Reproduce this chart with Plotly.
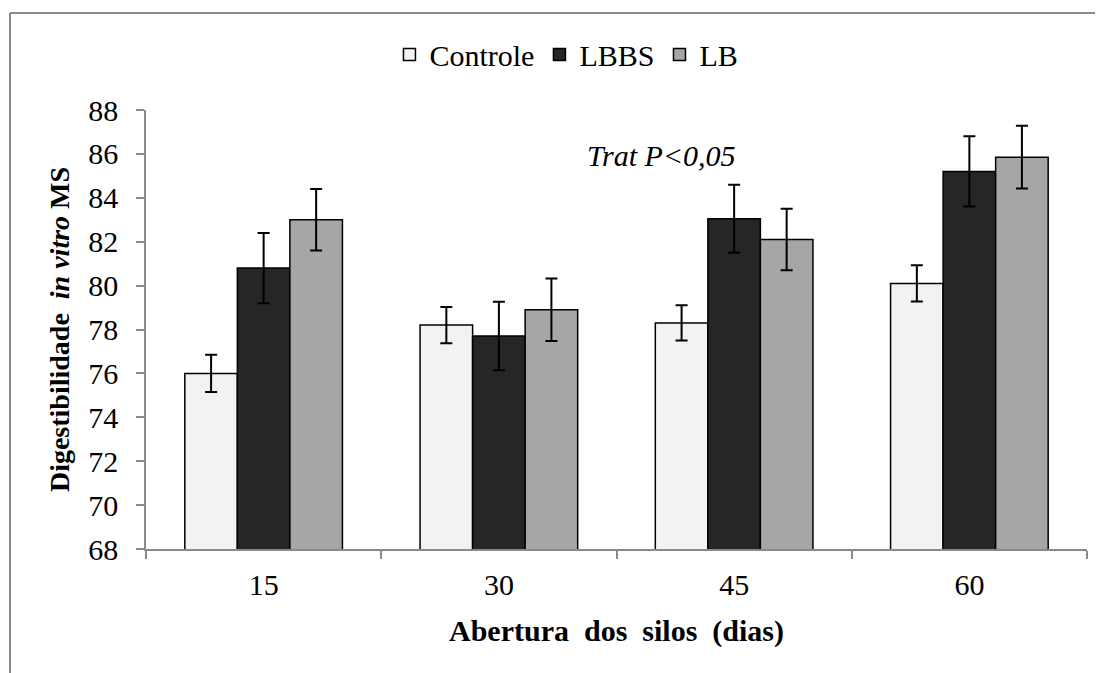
import plotly.graph_objects as go

categories = ["15", "30", "45", "60"]
series_names = ["Controle", "LBBS", "LB"]
controle = [76.0, 78.2, 78.3, 80.1]
controle_err = [0.85, 0.83, 0.8, 0.83]
lbbs = [80.8, 77.7, 83.05, 85.2]
lbbs_err = [1.6, 1.56, 1.55, 1.6]
lb = [83.0, 78.9, 82.1, 85.85]
lb_err = [1.4, 1.42, 1.4, 1.43]
colors = ["#f2f2f2", "#262626", "#a6a6a6"]
y_ticks = [68, 70, 72, 74, 76, 78, 80, 82, 84, 86, 88]

FONT = "Liberation Serif"

fig = go.Figure()
for name, vals, errs, col in zip(series_names, [controle, lbbs, lb],
                                 [controle_err, lbbs_err, lb_err], colors):
    fig.add_trace(go.Bar(
        name=name, x=categories, y=vals,
        marker=dict(color=col, line=dict(color="#000000", width=1.5)),
        error_y=dict(type="data", array=errs, visible=True,
                     color="#000000", thickness=2, width=6),
    ))

fig.update_layout(
    barmode="group",
    bargap=0.33,
    bargroupgap=0,
    width=1095, height=665,
    margin=dict(l=138, r=16, t=102, b=124, autoexpand=False),
    plot_bgcolor="white", paper_bgcolor="white",
    font=dict(family=FONT, size=30, color="#000000"),
    showlegend=True,
    legend=dict(orientation="h", xref="container", yref="container",
                x=0.51, y=0.93, xanchor="center", yanchor="middle",
                font=dict(family=FONT, size=30),
                itemwidth=30, bgcolor="rgba(0,0,0,0)"),
    xaxis=dict(
        type="category",
        showline=True, linecolor="#8a8a8a", linewidth=1.5,
        ticks="outside", tickson="boundaries", ticklen=8,
        tickcolor="#8a8a8a", tickwidth=1.5,
        showgrid=False,
        tickfont=dict(family=FONT, size=30),
        ticklabelstandoff=8,
        title=dict(text="<b>Abertura  dos  silos  (dias)</b>",
                   font=dict(family=FONT, size=30), standoff=20),
    ),
    yaxis=dict(
        range=[68, 88], tickvals=y_ticks,
        showline=True, linecolor="#8a8a8a", linewidth=1.5,
        ticks="outside", ticklen=8, tickcolor="#8a8a8a", tickwidth=1.5,
        showgrid=False, zeroline=False,
        tickfont=dict(family=FONT, size=30),
        ticklabelstandoff=12,
        title=dict(text="<b>Digestibilidade  <i>in vitro</i> MS</b>",
                   font=dict(family=FONT, size=28), standoff=10),
    ),
    annotations=[dict(
        text="<i>Trat P<0,05</i>", xref="paper", yref="paper",
        x=0.548, y=0.938, showarrow=False,
        font=dict(family=FONT, size=30, color="#000000"),
    )],
    shapes=[
        dict(type="line", xref="paper", yref="paper",
             x0=-0.1445, y0=1.221, x1=1.2, y1=1.221,
             line=dict(color="#8a8a8a", width=2)),
        dict(type="line", xref="paper", yref="paper",
             x0=-0.1445, y0=1.221, x1=-0.1445, y1=-0.5,
             line=dict(color="#8a8a8a", width=2)),
    ],
)

fig.write_html("out.html")
